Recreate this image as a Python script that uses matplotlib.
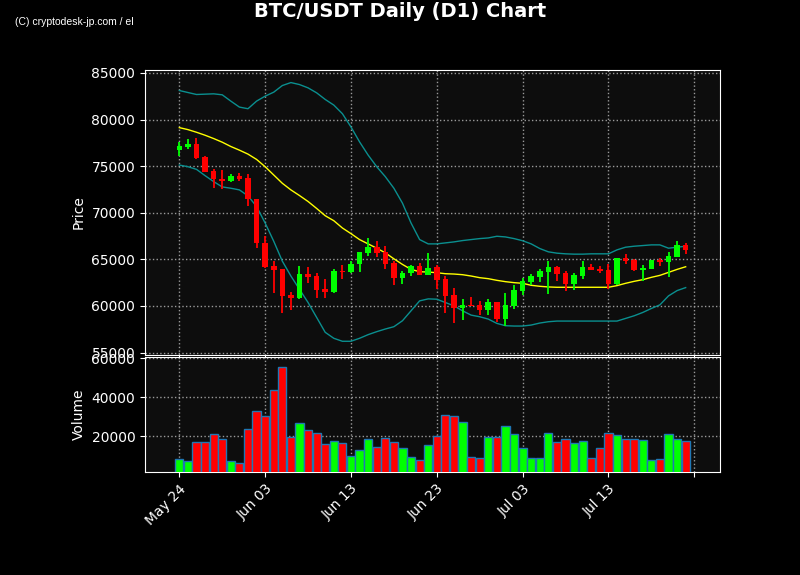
import numpy as np
import pandas as pd
import matplotlib
matplotlib.use('Agg')
import matplotlib.pyplot as plt
import matplotlib.dates as mdates

dates = pd.date_range('2024-05-24', '2024-07-22', freq='D')

opens = [76755, 77075, 77359, 75973, 74480, 73663, 73450, 73947, 73734, 71495,
         66804, 64245, 63925, 61153, 60833, 63392, 63179, 61828, 61509, 63783,
         63641, 64458, 65737, 66341, 65773, 64565, 62965, 63534, 64316, 63321,
         64138, 62858, 61153, 59767, 60158, 60087, 59553, 60407, 58630, 59980,
         61580, 62574, 63108, 63641, 64138, 63498, 62325, 63214, 64209, 63925,
         63818, 62325, 65098, 64884, 63854, 63925, 64955, 64707, 65240, 66555]
highs = [77608, 77963, 78070, 76115, 74658, 74551, 74125, 74302, 74125, 71495,
         67479, 64849, 63996, 61544, 64316, 64209, 63534, 62929, 63996, 64387,
         64778, 65808, 67301, 66946, 66412, 64813, 63712, 64387, 64600, 65702,
         64351, 63214, 61935, 60797, 61011, 60549, 60797, 60407, 61437, 62254,
         63036, 63463, 63996, 64778, 64316, 63783, 63569, 64778, 64493, 64316,
         64458, 65098, 65595, 64991, 64422, 64884, 65133, 65808, 66981, 66804]
lows = [76115, 76861, 75724, 74338, 72632, 72561, 73272, 73379, 70677, 66235,
        64067, 61437, 59198, 59553, 60762, 62503, 60833, 60833, 61437, 62929,
        63534, 63676, 65382, 65275, 63996, 62289, 62396, 63249, 63321, 63321,
        61864, 59198, 58132, 58452, 59980, 58985, 59020, 58238, 57883, 59660,
        61224, 62289, 62574, 61331, 62716, 61615, 61757, 62929, 63854, 63569,
        61864, 62254, 64529, 63747, 62645, 63925, 64316, 63143, 65240, 65560]
closes = [77146, 77359, 75902, 74409, 73592, 73450, 73947, 73628, 71459, 66733,
          64138, 63854, 61046, 60833, 63392, 63108, 61722, 61509, 63712, 63641,
          64529, 65808, 66377, 65631, 64458, 62965, 63569, 64280, 63321, 64102,
          62752, 61046, 59767, 60158, 59980, 59553, 60407, 58630, 60087, 61686,
          62645, 63179, 63712, 64138, 63427, 62325, 63285, 64209, 63854, 63747,
          62325, 65098, 64813, 63854, 64067, 64884, 64707, 65311, 66555, 65987]
volumes = [8205, 7178, 16923, 16923, 21025, 18461, 7178, 6495, 23589, 32820,
           30256, 43589, 55384, 19487, 26666, 23076, 21538, 15897, 17435, 16410,
           9743, 12820, 18461, 14359, 18974, 16923, 13846, 9230, 7692, 15384,
           20000, 30769, 30256, 27179, 9230, 8718, 19829, 19487, 25128, 21025,
           13846, 8718, 8718, 21538, 16923, 18461, 16410, 17435, 8718, 13846,
           21538, 20513, 18461, 18461, 17948, 7692, 8205, 21025, 18461, 17435]

bb_upper = [83116, 82903, 82690, 82726, 82761, 82655, 81979, 81339, 81162, 81979,
            82512, 82939, 83650, 83969, 83756, 83401, 82868, 82157, 81553, 80629,
            79207, 77608, 76186, 74942, 73876, 72632, 71032, 68900, 67124, 66661,
            66661, 66768, 66875, 67017, 67124, 67230, 67301, 67479, 67408, 67230,
            67000, 66661, 66164, 65808, 65666, 65595, 65560, 65560, 65595, 65595,
            65595, 66021, 66306, 66412, 66483, 66555, 66555, 66199, 66306, 66412]
bb_mid = [79136, 78923, 78639, 78319, 77963, 77572, 77110, 76719, 76293, 75724,
          74942, 74053, 73165, 72454, 71850, 71210, 70464, 69682, 69149, 68368,
          67763, 67124, 66661, 66199, 65702, 65062, 64458, 63925, 63676, 63641,
          63569, 63462, 63427, 63356, 63214, 63036, 62929, 62752, 62609, 62503,
          62432, 62219, 62112, 62041, 62006, 62006, 62006, 62006, 62006, 62006,
          62006, 62183, 62432, 62645, 62823, 63072, 63285, 63605, 63925, 64209]
bb_lower = [75120, 74942, 74658, 73983, 73343, 72774, 72632, 72454, 71815, 70677,
            68900, 66946, 64813, 63214, 61793, 60371, 58772, 57172, 56533, 56213,
            56213, 56533, 56924, 57244, 57528, 57777, 58416, 59483, 60549, 60762,
            60727, 60371, 60016, 59483, 59020, 58843, 58594, 58132, 57883, 57847,
            57847, 57954, 58168, 58310, 58381, 58381, 58381, 58381, 58381, 58381,
            58381, 58381, 58665, 58950, 59305, 59731, 60122, 61082, 61651, 61971]

df = pd.DataFrame({'open': opens, 'high': highs, 'low': lows, 'close': closes,
                   'volume': volumes, 'upper': bb_upper, 'mid': bb_mid,
                   'lower': bb_lower}, index=dates)

up_col = '#00ff00'
down_col = '#ff0000'
panel_bg = '#0d0d0d'
grid_kw = dict(color='#9a9a9a', linestyle=':', linewidth=1.0)

fig = plt.figure(figsize=(8, 5.75), dpi=100, facecolor='black')
ax = fig.add_axes([0.18125, 0.3826, 0.71875, 0.4957])
axv = fig.add_axes([0.18125, 0.1791, 0.71875, 0.2], sharex=ax)

x = mdates.date2num(df.index.to_pydatetime())
colors = np.where(df['close'] >= df['open'], up_col, down_col)

# candles
ax.vlines(x, df['low'], df['high'], colors=colors, linewidth=1.3, zorder=3)
body_bottom = np.minimum(df['open'], df['close'])
body_h = np.maximum(np.abs(df['close'] - df['open']), 60)
ax.bar(x, body_h, bottom=body_bottom, width=0.65, color=colors, zorder=4)

# bollinger bands + middle line
ax.plot(x, df['upper'], color='#0a8f8f', linewidth=1.0, zorder=2)
ax.plot(x, df['lower'], color='#0a8f8f', linewidth=1.0, zorder=2)
ax.plot(x, df['mid'], color='yellow', linewidth=1.0, zorder=2)

# volume
axv.bar(x, df['volume'], width=0.95, color=colors, edgecolor='#1f77b4', linewidth=1.0, zorder=3)

for a in (ax, axv):
    a.set_facecolor(panel_bg)
    a.grid(True, **grid_kw)
    a.set_axisbelow(True)
    for s in a.spines.values():
        s.set_color('white')
    a.tick_params(colors='white', labelsize=10)

ax.set_ylim(54740, 85320)
ax.set_yticks([55000, 60000, 65000, 70000, 75000, 80000, 85000])
axv.set_ylim(1700, 60600)
axv.set_yticks([20000, 40000, 60000])
ax.set_xlim(x[0] - 4, x[0] + 63)

tick_dates = pd.date_range('2024-05-24', '2024-07-23', freq='10D')
tick_labels = [d.strftime('%b %d') for d in tick_dates[:-1]] + ['']
axv.set_xticks(mdates.date2num(tick_dates.to_pydatetime()))
axv.set_xticklabels(tick_labels, rotation=45, ha='right', rotation_mode='anchor')
plt.setp(ax.get_xticklabels(), visible=False)

ax.set_ylabel('Price', color='white', fontsize=10)
axv.set_ylabel('Volume', color='white', fontsize=10)

fig.suptitle('BTC/USDT Daily (D1) Chart', color='white', fontsize=14, fontweight='bold', y=0.997)
fig.text(0.019, 0.962, '(C) cryptodesk-jp.com / el', color='white', fontsize=7.5,
         family=['Liberation Sans Narrow', 'Liberation Sans', 'DejaVu Sans'], va='center')

fig.savefig('out.png', dpi=100, facecolor='black')
